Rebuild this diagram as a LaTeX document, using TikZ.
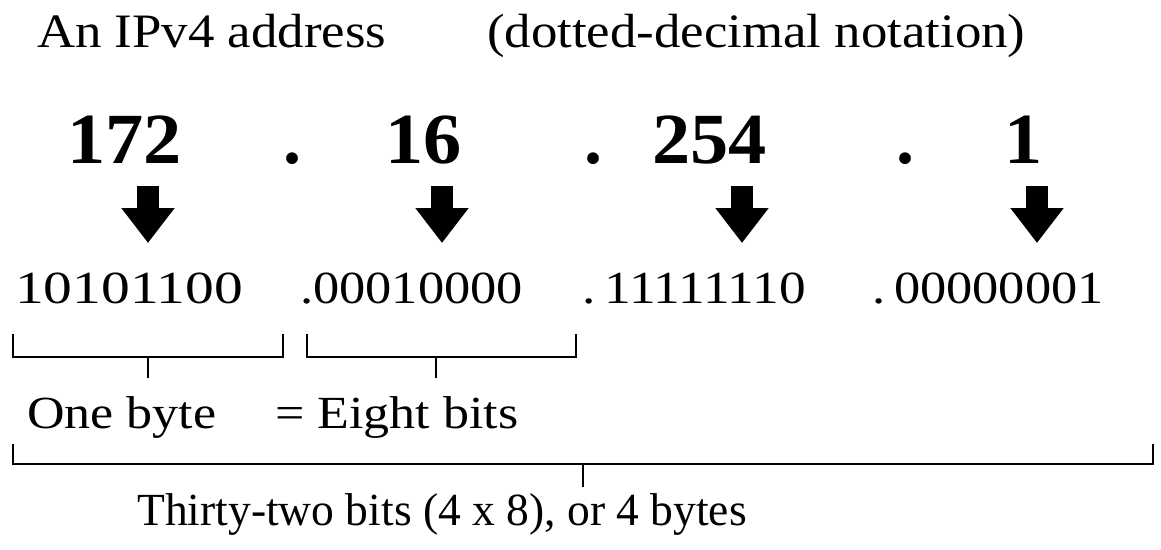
\documentclass[tikz,border=0pt]{standalone}
\usepackage{fontspec}
\setmainfont{Liberation Serif}
\usetikzlibrary{arrows.meta}
\newcommand{\wide}[2]{\scalebox{#1}[1]{#2}}
\tikzset{
  lbl/.style={inner sep=0pt, anchor=base west, font=\fontsize{46}{50}\selectfont},
  ttl/.style={inner sep=0pt, anchor=base west, font=\fontsize{48}{52}\selectfont},
  big/.style={inner sep=0pt, anchor=base west, font=\fontsize{72}{76}\selectfont\bfseries},
  bin/.style={inner sep=0pt, anchor=base west, font=\fontsize{46}{50}\selectfont},
  bigarrow/.style={line width=22pt, -{Triangle[width=51pt,length=35pt]}},
  brack/.style={line width=2.8pt, line join=miter}
}
\begin{document}
\begin{tikzpicture}[x=1pt,y=-1pt]
\useasboundingbox (0,0) rectangle (1161,549);
% titles
\node[ttl] (t1) at (37,47) {\wide{1.1}{An IPv4 address}};
\node[ttl] (t2) at (487,47) {\wide{1.1}{(dotted-decimal notation)}};
% dotted decimal
\node[big] (d1) at (67,163) {\wide{1.06}{172}};
\node[big] (p1) at (283,163) {.};
\node[big] (d2) at (385,163) {\wide{1.06}{16}};
\node[big] (p2) at (584,163) {.};
\node[big] (d3) at (652,163) {\wide{1.06}{254}};
\node[big] (p3) at (896,163) {.};
\node[big] (d4) at (1004,163) {\wide{1.06}{1}};
% arrows
\foreach \i/\x in {1/148,2/442,3/742,4/1037}{
  \coordinate (as\i) at (\x,186);
  \coordinate (ae\i) at (\x,243);
  \draw[bigarrow] (as\i) -- (ae\i);
}
% binary
\node[bin] (b1) at (15,303) {\wide{1.25}{10101100}};
\node[bin] (b2) at (300,303) {\wide{1.14}{.00010000}};
\node[bin] (b3) at (582,303) {\wide{1.16}{.\,11111110}};
\node[bin] (b4) at (872,303) {\wide{1.14}{.\,00000001}};
% small brackets
\draw[brack] (13,334) -- (13,357) -- (283,357) -- (283,334);
\draw[brack] (148,357) -- (148,378);
\draw[brack] (307,334) -- (307,357) -- (576,357) -- (576,334);
\draw[brack] (436,357) -- (436,378);
\node[lbl] (ob) at (27,428) {\wide{1.13}{One byte}};
\node[lbl] (eb) at (275,428) {\wide{1.13}{= Eight bits}};
% big bracket
\draw[brack] (13,444) -- (13,464) -- (1153,464) -- (1153,444);
\draw[brack] (583,464) -- (583,487);
\node[lbl] (tt) at (137,525) {\wide{0.99}{Thirty-two bits (4 x 8), or 4 bytes}};
\end{tikzpicture}
\end{document}
